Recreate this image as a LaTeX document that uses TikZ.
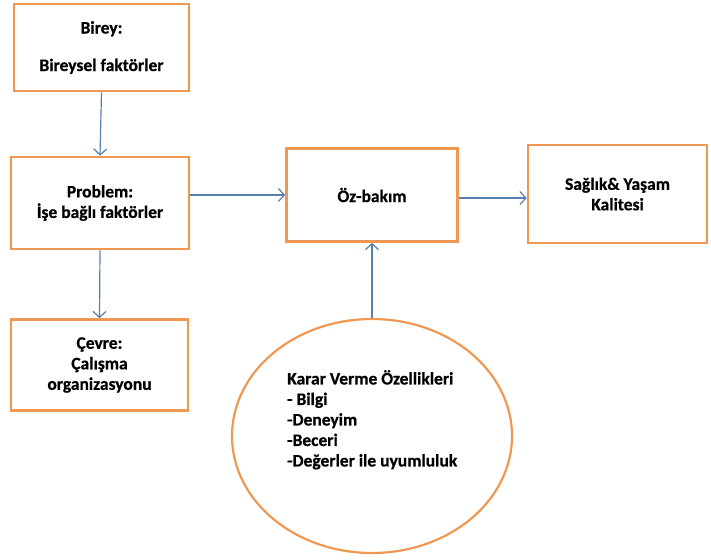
\documentclass[tikz,border=0pt]{standalone}
\usepackage{fontspec}
\setmainfont{Carlito}[BoldFeatures={FakeBold=0.6}]
\usetikzlibrary{arrows.meta,shapes.geometric}
\definecolor{boxorange}{RGB}{240,152,82}
\definecolor{arrowblue}{RGB}{88,128,172}
\tikzset{
  box/.style={draw=boxorange, line width=2.6pt, fill=white, rectangle, align=center,
    font=\bfseries\fontsize{17.5}{20.5}\selectfont, inner sep=0pt},
  conn/.style={draw=arrowblue, line width=1.2pt, -{Straight Barb[length=6pt,width=13pt,line width=1.2pt]}},
}
\begin{document}
\begin{tikzpicture}[x=1pt,y=-1pt]
\useasboundingbox (0,0) rectangle (711,559);
\node[box, minimum width=175pt, minimum height=87pt] (birey) at (101.5,47.5) {Birey:\\[17pt]Bireysel faktörler};
\node[box, minimum width=178pt, minimum height=92pt] (problem) at (100,203) {Problem:\\İşe bağlı faktörler};
\node[box, minimum width=177pt, minimum height=91pt] (cevre) at (99.5,365) {Çevre:\\Çalışma\\organizasyonu};
\node[box, minimum width=171pt, minimum height=93pt] (oz) at (372,195) {Öz-bakım};
\node[box, minimum width=179pt, minimum height=98pt] (saglik) at (617.5,194) {Sağlık\&{} Yaşam\\Kalitesi};
\node[draw=boxorange, line width=2.2pt, ellipse, minimum width=280pt, minimum height=234pt] (karar) at (372,436) {};
\node[align=left, anchor=north west, inner sep=0pt, font=\bfseries\fontsize{17.5}{20.5}\selectfont] (ktext) at (287,370)
  {Karar Verme Özellikleri\\- Bilgi\\-Deneyim\\-Beceri\\-Değerler ile uyumluluk};
\draw[conn] (birey.south) -- (problem.north);
\draw[conn] (problem.east |- oz.west) -- (oz.west);
\draw[conn] ([yshift=-3pt]oz.east) -- ([yshift=-3pt]oz.east -| saglik.west);
\draw[conn] (problem.south) -- (cevre.north);
\draw[conn] (karar.north) -- (oz.south);
\end{tikzpicture}
\end{document}
